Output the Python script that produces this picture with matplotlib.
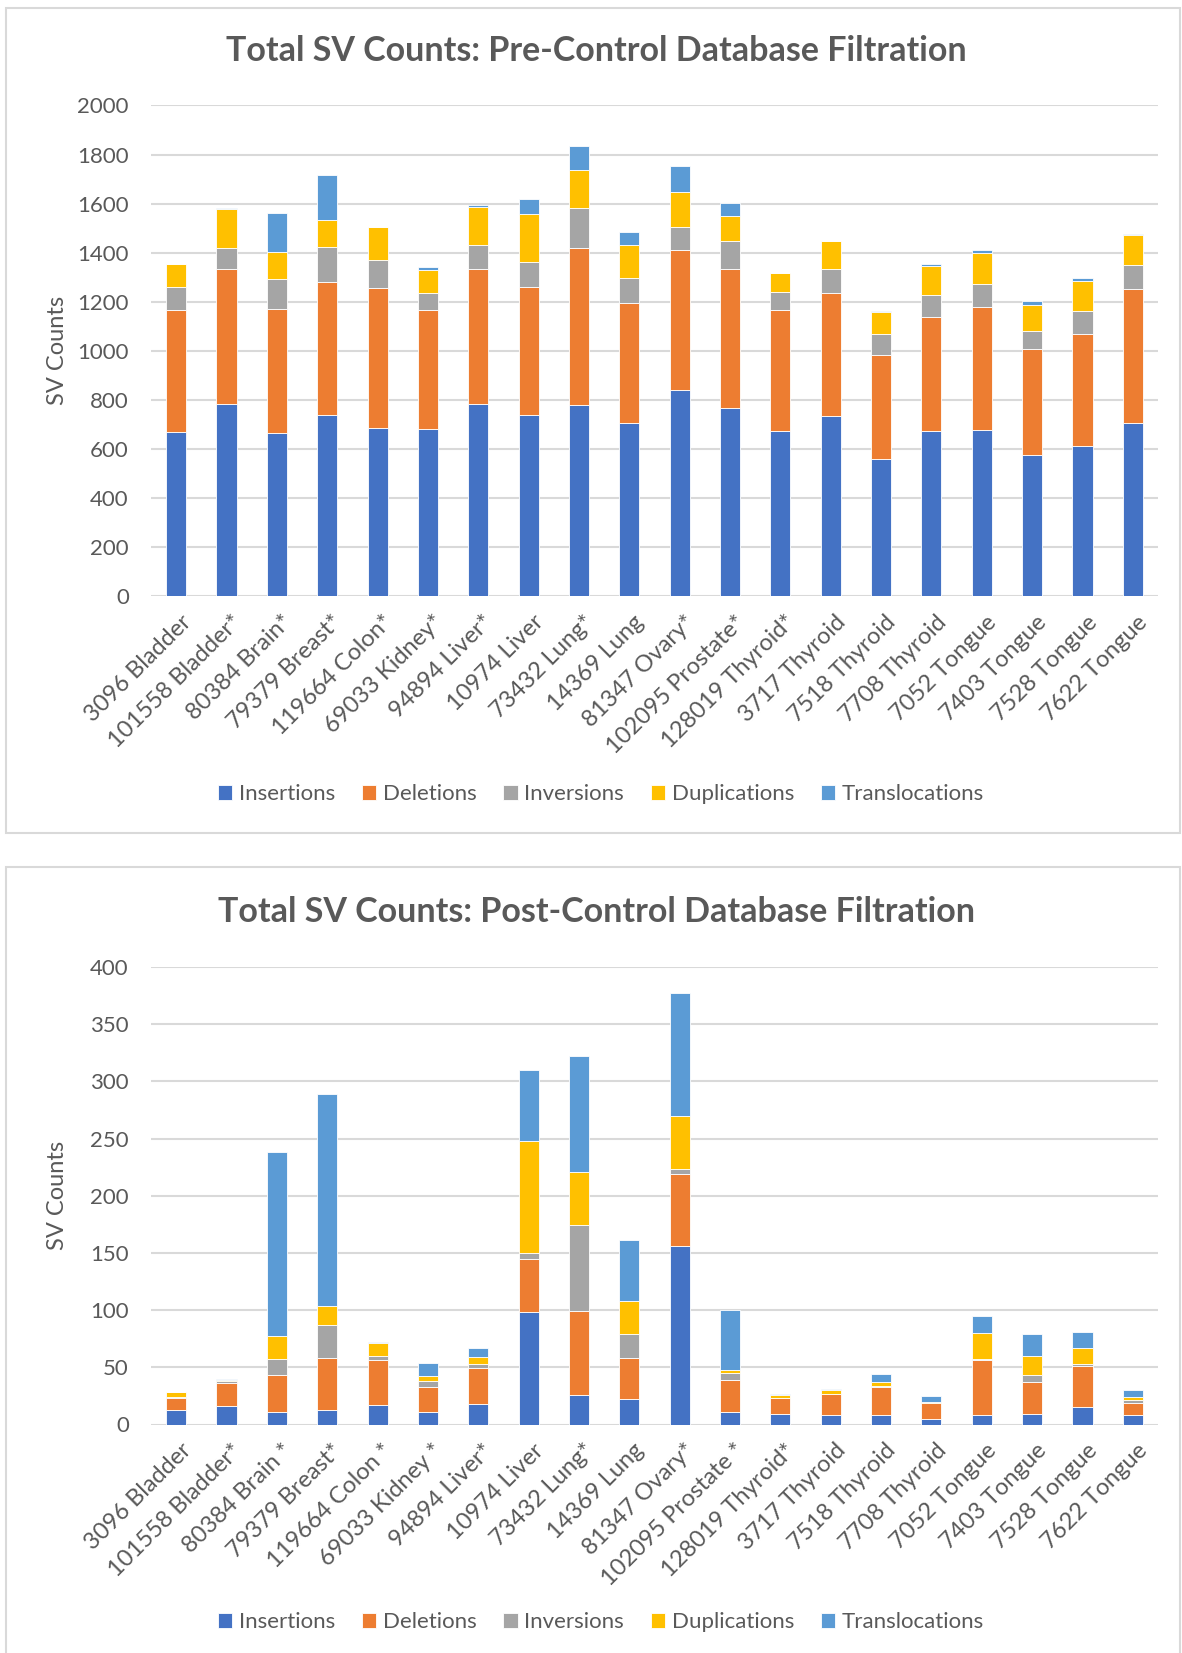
import matplotlib
matplotlib.use("Agg")
import matplotlib.pyplot as plt
from matplotlib.patches import Rectangle
from matplotlib.transforms import ScaledTranslation
import numpy as np

plt.rcParams['font.family'] = ['Lato', 'DejaVu Sans']

SERIES = ["Insertions", "Deletions", "Inversions", "Duplications", "Translocations"]
COLORS = ["#4472C4", "#ED7D31", "#A5A5A5", "#FFC000", "#5B9BD5"]
TEXT = "#595959"
GRID = "#D9D9D9"

labels_pre = ["3096 Bladder", "101558 Bladder*", "80384 Brain*", "79379 Breast*", "119664 Colon*",
              "69033 Kidney*", "94894 Liver*", "10974 Liver", "73432 Lung*", "14369 Lung",
              "81347 Ovary*", "102095 Prostate*", "128019 Thyroid*", "3717 Thyroid", "7518 Thyroid",
              "7708 Thyroid", "7052 Tongue", "7403 Tongue", "7528 Tongue", "7622 Tongue"]
labels_post = ["3096 Bladder", "101558 Bladder*", "80384 Brain *", "79379 Breast*", "119664 Colon *",
               "69033 Kidney *", "94894 Liver*", "10974 Liver", "73432 Lung*", "14369 Lung",
               "81347 Ovary*", "102095 Prostate *", "128019 Thyroid*", "3717 Thyroid", "7518 Thyroid",
               "7708 Thyroid", "7052 Tongue", "7403 Tongue", "7528 Tongue", "7622 Tongue"]

# pre-control database filtration
pre_ins = [667, 781, 663, 736, 687, 679, 782, 736, 778, 705, 838, 767, 672, 733, 558, 673, 678, 573, 611, 706]
pre_del = [499, 552, 507, 543, 570, 487, 551, 524, 640, 488, 573, 566, 494, 502, 424, 464, 499, 436, 456, 546]
pre_inv = [95, 86, 121, 143, 112, 68, 97, 102, 164, 105, 95, 113, 75, 97, 85, 89, 94, 70, 95, 99]
pre_dup = [93, 161, 110, 111, 136, 95, 158, 197, 153, 135, 140, 102, 76, 114, 89, 121, 128, 106, 121, 120]
pre_tra = [0, 2, 162, 185, 0, 11, 5, 61, 99, 53, 108, 55, 2, 2, 7, 7, 13, 19, 15, 5]

# post-control database filtration
post_ins = [13, 16, 11, 13, 17, 11, 18, 98, 26, 22, 156, 11, 9, 8, 8, 5, 8, 9, 15, 8]
post_del = [10, 20, 32, 45, 39, 22, 31, 47, 73, 36, 63, 28, 14, 19, 25, 14, 48, 28, 36, 11]
post_inv = [1, 2, 14, 29, 4, 5, 4, 5, 75, 21, 4, 6, 0, 0, 1, 0, 1, 6, 2, 2]
post_dup = [4, 1, 20, 17, 11, 4, 6, 98, 47, 29, 47, 3, 3, 3, 3, 1, 23, 17, 14, 3]
post_tra = [0, 1, 161, 185, 1, 12, 8, 62, 101, 53, 107, 52, 1, 1, 7, 5, 15, 19, 14, 6]

W, H = 1182, 1653
fig = plt.figure(figsize=(W / 100, H / 100), dpi=100)


def fx(px):
    return px / W


def fy(py):
    return 1 - py / H


def panel(top, bottom, title, title_y, ax_top, ax_bot, ymax, ystep, labels, data, legend_y):
    fig.patches.append(Rectangle((fx(6), fy(bottom)), fx(1174), (bottom - top) / H,
                                 transform=fig.transFigure, fill=False, edgecolor=GRID, lw=1.5))
    fig.text(fx(596), fy(title_y), title, ha='center', va='center', fontsize=24.5,
             fontweight='bold', color=TEXT)
    ax = fig.add_axes([fx(151), fy(ax_bot), fx(1158 - 151), (ax_bot - ax_top) / H])
    x = np.arange(len(labels))
    base = np.zeros(len(labels))
    for name, vals, col in zip(SERIES, data, COLORS):
        ax.bar(x, vals, 0.4, bottom=base, color=col, edgecolor='white', linewidth=0.6, label=name, zorder=3)
        base = base + np.array(vals)
    ax.set_xlim(-0.5, len(labels) - 0.5)
    ax.set_ylim(0, ymax)
    ax.set_yticks(np.arange(0, ymax + 1, ystep))
    ax.yaxis.grid(True, color=GRID, lw=1.5, zorder=0)
    ax.set_axisbelow(True)
    for s in ax.spines.values():
        s.set_visible(False)
    ax.tick_params(axis='both', length=0, labelcolor=TEXT)
    ax.tick_params(axis='y', pad=16, labelsize=16)
    ax.tick_params(axis='x', pad=11, labelsize=17)
    ax.set_xticks(x)
    ax.set_xticklabels(labels, rotation=45, ha='right', va='top', rotation_mode='anchor')
    off = ScaledTranslation(4 / 100, 0, fig.dpi_scale_trans)
    for t in ax.get_xticklabels():
        t.set_transform(t.get_transform() + off)
    fig.text(fx(58), fy((ax_top + ax_bot) / 2), "SV Counts", rotation=90, ha='center', va='center',
             fontsize=17, color=TEXT)
    h, l = ax.get_legend_handles_labels()
    fig.legend(h, l, loc='center', bbox_to_anchor=(fx(601), fy(legend_y)), ncol=5, frameon=False,
               fontsize=16, labelcolor=TEXT, handlelength=0.65, handleheight=0.65, handletextpad=0.3,
               columnspacing=1.2)
    return ax


panel(8, 833, "Total SV Counts: Pre-Control Database Filtration", 51, 105.5, 596, 2000, 200,
      labels_pre, [pre_ins, pre_del, pre_inv, pre_dup, pre_tra], 794)
panel(867, 1670, "Total SV Counts: Post-Control Database Filtration", 912, 967, 1424.5, 400, 50,
      labels_post, [post_ins, post_del, post_inv, post_dup, post_tra], 1622)

fig.savefig("out.png", dpi=100, facecolor='white')
